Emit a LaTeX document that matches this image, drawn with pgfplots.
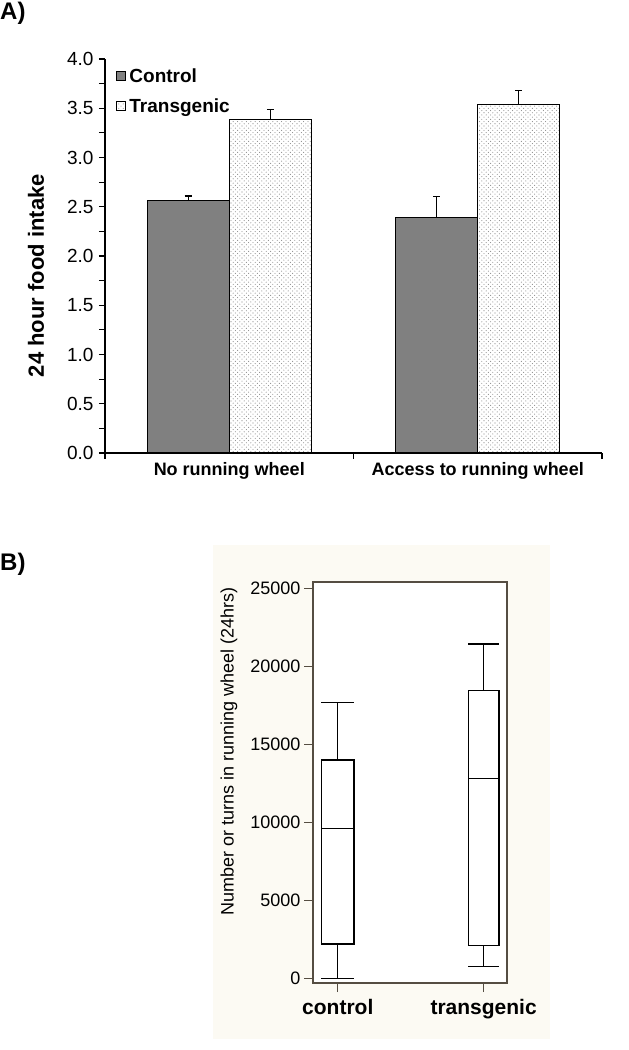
\documentclass[border=0pt]{standalone}
\usepackage{fontspec}
\setmainfont{Liberation Sans}
\usepackage{pgfplots}
\pgfplotsset{compat=1.18}
\usetikzlibrary{patterns.meta}
\definecolor{cream}{HTML}{FCFAF3}
\definecolor{barGray}{HTML}{808080}
\definecolor{frameB}{HTML}{554D42}
\definecolor{dotGray}{HTML}{8C8C8C}
\begin{document}
\begin{tikzpicture}
\path[use as bounding box] (0,0) rectangle (629bp,1050bp);
\node[anchor=north west, inner sep=0pt, font=\fontsize{24bp}{26bp}\selectfont\bfseries] at (0bp,1048bp) {A)};
\node[anchor=north west, inner sep=0pt, font=\fontsize{24bp}{26bp}\selectfont\bfseries] at (0bp,497bp) {B)};
\fill[cream] (213bp,11bp) rectangle (550bp,505bp);

% ---------------- Panel A ----------------
\begin{axis}[
  at={(105bp,597bp)}, anchor=south west, scale only axis,
  width=497bp, height=394bp,
  xmin=-0.5, xmax=1.5, ymin=0, ymax=4,
  axis x line*=bottom, axis y line*=left,
  axis line style={line width=1.2bp, -},
  every tick/.style={line width=1.2bp, black},
  tick align=outside,
  major tick length=6bp, minor tick length=6bp,
  xtick={-0.5,0.5,1.5}, xticklabels={},
  extra x ticks={0,1},
  extra x tick labels={No running wheel, Access to running wheel},
  extra x tick style={major tick length=0pt, xticklabel style={font=\fontsize{18bp}{20bp}\selectfont\bfseries, yshift=-6bp}},
  ytick={0,0.5,...,4}, minor y tick num=1,
  yticklabel style={/pgf/number format/.cd, fixed, fixed zerofill, precision=1, /tikz/.cd, font=\fontsize{19bp}{21bp}\selectfont, xshift=-2bp},
  /pgf/number format/assume math mode=true,
  ylabel={24 hour food intake},
  ylabel style={font=\fontsize{22bp}{24bp}\selectfont\bfseries, at={(axis description cs:-0.139,0.45)}, anchor=center},
  ybar, bar width=82bp,
  legend style={draw=none, fill=none, at={(axis description cs:0.022,0.982)}, anchor=north west,
    font=\fontsize{19bp}{21bp}\selectfont\bfseries, row sep=11bp, inner sep=0pt},
  legend cell align=left,
  legend image code/.code={\draw[#1, draw=black, line width=0.8bp] (0bp,-4.5bp) rectangle (9bp,4.5bp);},
  error bars/error bar style={line width=1.2bp, black},
  error bars/error mark options={rotate=90, mark size=3.5bp, line width=1.2bp, black},
]
\addplot[bar shift=-41bp, fill=barGray, draw=black, line width=1bp,
  error bars/.cd, y dir=plus, y explicit]
  coordinates {(0,2.56) +- (0,0.05) (1,2.39) +- (0,0.21)};
\addplot[bar shift=41bp, fill=white,
  postaction={pattern={Dots[distance=4.4bp, radius=0.55bp]}, pattern color=dotGray},
  postaction={pattern={Dots[distance=4.4bp, radius=0.55bp, xshift=2.2bp, yshift=2.2bp]}, pattern color=dotGray},
  draw=black, line width=1bp,
  error bars/.cd, y dir=plus, y explicit]
  coordinates {(0,3.39) +- (0,0.10) (1,3.54) +- (0,0.14)};
\legend{\hspace{1.5bp}Control, \hspace{1.5bp}Transgenic}
\end{axis}

% ---------------- Panel B ----------------
\begin{axis}[
  at={(313bp,67bp)}, anchor=south west, scale only axis,
  width=194bp, height=401bp,
  xmin=0.83, xmax=2.16, ymin=-301, ymax=25423,
  axis background/.style={fill=white},
  axis line style={line width=1.3bp, frameB},
  every tick/.style={line width=1.3bp, frameB},
  tick align=outside, major tick length=9bp,
  xtick pos=left, ytick pos=left,
  xtick={1,2}, xticklabels={control, transgenic},
  xticklabel style={font=\fontsize{21bp}{23bp}\selectfont\bfseries, yshift=-4bp},
  ytick={0,5000,10000,15000,20000,25000},
  scaled y ticks=false,
  yticklabel style={/pgf/number format/.cd, 1000 sep={}, /tikz/.cd, font=\fontsize{18bp}{20bp}\selectfont, xshift=0bp},
  /pgf/number format/assume math mode=true,
  ylabel={Number or turns in running wheel (24hrs)},
  ylabel style={font=\fontsize{18bp}{20bp}\selectfont, at={(axis description cs:-0.433,0.578)}, anchor=center},
  unbounded coords=jump,
]
% control: whiskers 0 / 17700, quartiles 2200 / 14000, median 9600
\addplot[draw=black, fill=white, line width=1.3bp, mark=none]
  coordinates {(0.888,2200) (1.112,2200) (1.112,14000) (0.888,14000) (0.888,2200)};
\addplot[draw=black, line width=1.3bp, mark=none]
  coordinates {(0.888,9600) (1.112,9600) (nan,nan)
               (1,14000) (1,17700) (nan,nan) (0.888,17700) (1.112,17700) (nan,nan)
               (1,2200) (1,0) (nan,nan) (0.888,0) (1.112,0)};
% transgenic: whiskers 740 / 21450, quartiles 2100 / 18450, median 12800
\addplot[draw=black, fill=white, line width=1.3bp, mark=none]
  coordinates {(1.895,2100) (2.105,2100) (2.105,18450) (1.895,18450) (1.895,2100)};
\addplot[draw=black, line width=1.3bp, mark=none]
  coordinates {(1.895,12800) (2.105,12800) (nan,nan)
               (2,18450) (2,21450) (nan,nan) (1.895,21450) (2.105,21450) (nan,nan)
               (2,2100) (2,740) (nan,nan) (1.895,740) (2.105,740)};
\end{axis}
\end{tikzpicture}
\end{document}
